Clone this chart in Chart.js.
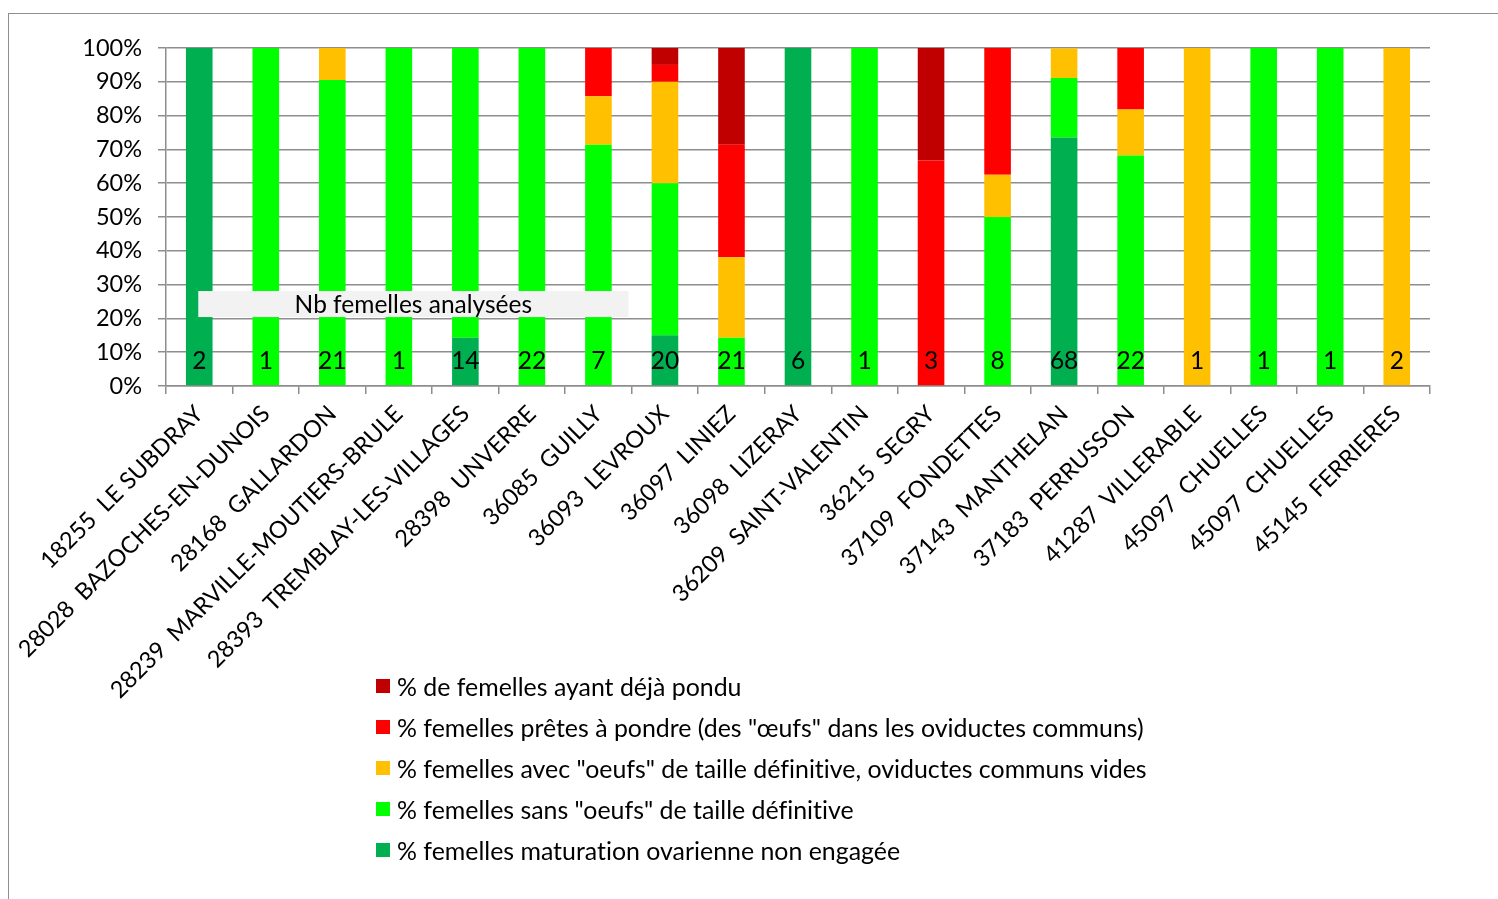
<!DOCTYPE html>
<html>
<head>
<meta charset="utf-8">
<script src="https://cdn.jsdelivr.net/npm/chart.js@4"></script>
<style>
  html, body { margin: 0; padding: 0; background: #fff; overflow: hidden; }
  #wrap { position: relative; width: 1498px; height: 899px; }
  #frame { position: absolute; left: 8px; top: 13px; width: 1600px; height: 1000px;
           border-left: 1.5px solid #8e8e8e; border-top: 1.5px solid #8e8e8e; }
  #chart { position: absolute; left: 0; top: 0; }
  #legend { position: absolute; left: 376px; top: 666px; font-family: Lato, sans-serif;
            font-size: 24.9px; color: #000; font-variant-ligatures: none; }
  #legend .row { height: 40.8px; display: flex; align-items: center; white-space: pre; }
  #legend .box { width: 14px; height: 14px; margin-right: 7px; }
</style>
</head>
<body>
<div id="wrap">
  <div id="frame"></div>
  <canvas id="chart" width="1498" height="899"></canvas>
  <div id="legend"></div>
</div>
<script>
// communes (code INSEE + nom)
const categories = [
  '18255  LE SUBDRAY', '28028  BAZOCHES-EN-DUNOIS', '28168  GALLARDON',
  '28239  MARVILLE-MOUTIERS-BRULE', '28393  TREMBLAY-LES-VILLAGES', '28398  UNVERRE',
  '36085  GUILLY', '36093  LEVROUX', '36097  LINIEZ', '36098  LIZERAY',
  '36209  SAINT-VALENTIN', '36215  SEGRY', '37109  FONDETTES', '37143  MANTHELAN',
  '37183  PERRUSSON', '41287  VILLERABLE', '45097  CHUELLES', '45097  CHUELLES',
  '45145  FERRIERES'
];

// Nb femelles analysées
const nbFemelles = [2, 1, 21, 1, 14, 22, 7, 20, 21, 6, 1, 3, 8, 68, 22, 1, 1, 1, 2];

// pourcentages, du bas vers le haut de la pile
const nonEngagee = [100, 0, 0, 0, 14.3, 0, 0, 15, 0, 100, 0, 0, 0, 73.5, 0, 0, 0, 0, 0];
const sansOeufs  = [0, 100, 90.5, 100, 85.7, 100, 71.4, 45, 14.3, 0, 100, 0, 50, 17.6, 68.2, 0, 100, 100, 0];
const avecOeufs  = [0, 0, 9.5, 0, 0, 0, 14.3, 30, 23.8, 0, 0, 0, 12.5, 8.8, 13.6, 100, 0, 0, 100];
const pretes     = [0, 0, 0, 0, 0, 0, 14.3, 5, 33.3, 0, 0, 66.7, 37.5, 0, 18.2, 0, 0, 0, 0];
const dejaPondu  = [0, 0, 0, 0, 0, 0, 0, 5, 28.6, 0, 0, 33.3, 0, 0, 0, 0, 0, 0, 0];

const yTicks = [0, 10, 20, 30, 40, 50, 60, 70, 80, 90, 100];

const FONT = 'Lato, sans-serif';

const datasets = [
  { label: '% femelles maturation ovarienne non engagée', data: nonEngagee, backgroundColor: '#00B050' },
  { label: '% femelles sans "oeufs" de taille définitive', data: sansOeufs, backgroundColor: '#00FF00' },
  { label: '% femelles avec "oeufs" de taille définitive, oviductes communs vides', data: avecOeufs, backgroundColor: '#FFC000' },
  { label: '% femelles prêtes à pondre (des "œufs" dans les oviductes communs)', data: pretes, backgroundColor: '#FF0000' },
  { label: '% de femelles ayant déjà pondu', data: dejaPondu, backgroundColor: '#C00000' },
].map(ds => ({ ...ds, barPercentage: 0.4, categoryPercentage: 1.0 }));

// "Nb femelles analysées" box and counts at the foot of each bar
const countLabels = {
  id: 'countLabels',
  afterDatasetsDraw(chart) {
    const ctx = chart.ctx;
    const x = chart.scales.x;
    const y = chart.scales.y;
    const step = x.getPixelForValue(1) - x.getPixelForValue(0);

    ctx.save();
    const left = x.getPixelForValue(0) - 1;
    const right = x.getPixelForValue(6) + step * 0.45;
    const top = y.getPixelForValue(28.1);
    const bottom = y.getPixelForValue(20.4);
    ctx.fillStyle = '#f2f2f2';
    ctx.fillRect(left, top, right - left, bottom - top);
    ctx.fillStyle = '#000';
    ctx.font = '24.5px ' + FONT;
    ctx.textAlign = 'center';
    ctx.textBaseline = 'middle';
    ctx.fillText('Nb femelles analysées', (left + right) / 2, (top + bottom) / 2 + 1);

    nbFemelles.forEach((n, i) => {
      ctx.fillText(String(n), x.getPixelForValue(i), y.getPixelForValue(7.5));
    });
    ctx.restore();
  }
};

const ctx = document.getElementById('chart').getContext('2d');
const chart = new Chart(ctx, {
  type: 'bar',
  data: { labels: categories, datasets: datasets },
  options: {
    responsive: false,
    animation: false,
    devicePixelRatio: 1,
    layout: { padding: { left: 0, top: 48, right: 68, bottom: 0 } },
    plugins: { legend: { display: false }, tooltip: { enabled: false } },
    scales: {
      x: {
        stacked: true,
        grid: { display: true, drawOnChartArea: false, offset: true, tickLength: 8, color: '#8e8e8e', lineWidth: 1.5 },
        border: { color: '#8e8e8e', width: 1.5 },
        ticks: {
          autoSkip: false, maxRotation: 45, minRotation: 45, padding: 6,
          color: '#000', font: { family: FONT, size: 23.5 },
          callback: function (v) { return this.getLabelForValue(v).replace(/  /g, '\u00a0\u00a0'); }
        },
        afterFit: (scale) => { scale.height = 899 - 386; }
      },
      y: {
        stacked: true,
        min: 0, max: 100,
        afterBuildTicks: (scale) => { scale.ticks = yTicks.map(v => ({ value: v })); },
        grid: { color: '#8e8e8e', lineWidth: 1.5, tickLength: 8 },
        border: { color: '#8e8e8e', width: 1.5 },
        ticks: {
          padding: 16, color: '#000', font: { family: FONT, size: 23.5 },
          callback: (v) => v + '%'
        },
        afterFit: (scale) => { scale.width = 166; }
      }
    }
  },
  plugins: [countLabels]
});

// legend, top entry = top of the stack
const legend = document.getElementById('legend');
datasets.slice().reverse().forEach(ds => {
  const row = document.createElement('div');
  row.className = 'row';
  const box = document.createElement('span');
  box.className = 'box';
  box.style.background = ds.backgroundColor;
  const txt = document.createElement('span');
  txt.textContent = ds.label;
  row.appendChild(box);
  row.appendChild(txt);
  legend.appendChild(row);
});
</script>
</body>
</html>
